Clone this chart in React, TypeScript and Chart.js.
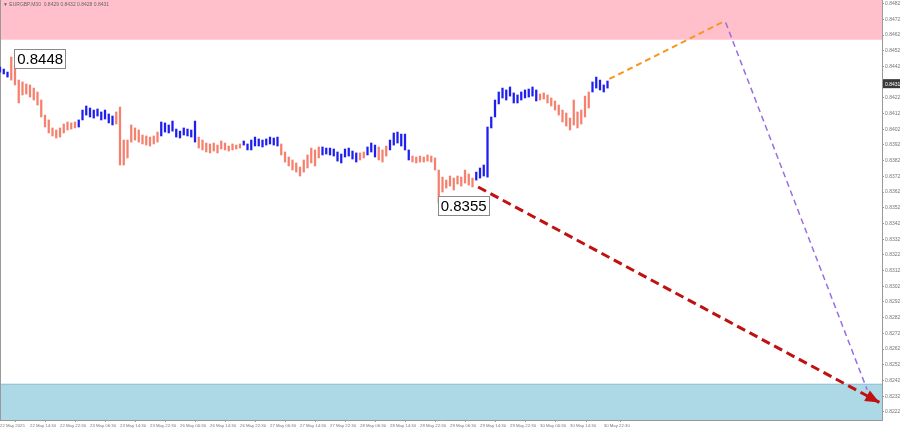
import React, { useEffect, useRef } from 'react';
import { Chart, registerables } from 'chart.js';

Chart.register(...registerables);

// ---------------- DATA ----------------
const symbolTitle = '\u25BC EURGBP,M30  0.8429 0.8432 0.8428 0.8431';

const timeLabels = [
  '22 May 2025', '22 May 14:30', '22 May 22:30', '23 May 06:30', '23 May 14:30', '23 May 22:30',
  '26 May 06:30', '26 May 14:30', '26 May 22:30', '27 May 06:30', '27 May 14:30', '27 May 22:30',
  '28 May 06:30', '28 May 14:30', '28 May 22:30', '29 May 06:30', '29 May 14:30', '29 May 22:30',
  '30 May 06:30', '30 May 14:30', '30 May 22:30',
];
// position of each time label, in 30-minute bar units
const timeTickBars = [0, 16, 32, 48, 64, 80, 96, 112, 128, 144, 160, 176, 192, 208, 224, 240, 256, 272, 288, 304, 322];

const priceTicks = [
  0.8482, 0.8472, 0.8462, 0.8452, 0.8442, 0.8432, 0.8422, 0.8412, 0.8402, 0.8392, 0.8382, 0.8372, 0.8362, 0.8352,
  0.8342, 0.8332, 0.8322, 0.8312, 0.8302, 0.8292, 0.8282, 0.8272, 0.8262, 0.8252, 0.8242, 0.8232, 0.8222,
];

// hourly bars (each spans two 30-minute slots)
const barHigh = [
  0.84416, 0.84403, 0.84384, 0.84480, 0.84429, 0.84333, 0.84321, 0.84308, 0.84302, 0.84282,
  0.84257, 0.84206, 0.84110, 0.84079, 0.84028, 0.84015, 0.84028, 0.84053, 0.84066, 0.84060,
  0.84066, 0.84079, 0.84142, 0.84168, 0.84155, 0.84142, 0.84149, 0.84130, 0.84142, 0.84117,
  0.84104, 0.84130, 0.84161, 0.83951, 0.83951, 0.84047, 0.84028, 0.84015, 0.83983, 0.83977,
  0.83970, 0.83977, 0.84002, 0.84066, 0.84060, 0.84047, 0.84072, 0.84021, 0.84008, 0.84028,
  0.84021, 0.84015, 0.84072, 0.83970, 0.83951, 0.83932, 0.83926, 0.83932, 0.83919, 0.83945,
  0.83932, 0.83913, 0.83926, 0.83919, 0.83926, 0.83945, 0.83926, 0.83951, 0.83970, 0.83958,
  0.83951, 0.83958, 0.83970, 0.83964, 0.83970, 0.83926, 0.83875, 0.83843, 0.83824, 0.83805,
  0.83779, 0.83824, 0.83856, 0.83900, 0.83888, 0.83907, 0.83907, 0.83900, 0.83900, 0.83894,
  0.83875, 0.83862, 0.83894, 0.83900, 0.83881, 0.83869, 0.83869, 0.83875, 0.83907, 0.83932,
  0.83919, 0.83907, 0.83888, 0.83913, 0.83951, 0.83996, 0.84002, 0.83989, 0.83989, 0.83888,
  0.83849, 0.83843, 0.83849, 0.83843, 0.83856, 0.83849, 0.83837, 0.83760, 0.83715, 0.83696,
  0.83722, 0.83709, 0.83722, 0.83715, 0.83760, 0.83735, 0.83709, 0.83747, 0.83773, 0.83792,
  0.84034, 0.84098, 0.84206, 0.84257, 0.84282, 0.84270, 0.84289, 0.84251, 0.84238, 0.84257,
  0.84270, 0.84276, 0.84289, 0.84270, 0.84244, 0.84251, 0.84238, 0.84219, 0.84200, 0.84174,
  0.84142, 0.84123, 0.84091, 0.84206, 0.84130, 0.84142, 0.84231, 0.84257, 0.84321, 0.84352,
  0.84333, 0.84302, 0.84327,
];
const barLow = [
  0.84384, 0.84372, 0.84352, 0.84333, 0.84302, 0.84187, 0.84238, 0.84244, 0.84225, 0.84206,
  0.84174, 0.84098, 0.84034, 0.83996, 0.83977, 0.83964, 0.83970, 0.83996, 0.84015, 0.84021,
  0.84028, 0.84034, 0.84079, 0.84110, 0.84098, 0.84091, 0.84104, 0.84079, 0.84085, 0.84060,
  0.84047, 0.84053, 0.83792, 0.83792, 0.83837, 0.83938, 0.83951, 0.83938, 0.83926, 0.83919,
  0.83913, 0.83926, 0.83938, 0.83977, 0.84002, 0.83996, 0.84008, 0.83970, 0.83964, 0.83983,
  0.83977, 0.83970, 0.83938, 0.83900, 0.83888, 0.83875, 0.83869, 0.83881, 0.83869, 0.83894,
  0.83888, 0.83881, 0.83888, 0.83894, 0.83900, 0.83919, 0.83888, 0.83888, 0.83913, 0.83913,
  0.83907, 0.83919, 0.83926, 0.83919, 0.83913, 0.83856, 0.83811, 0.83786, 0.83760, 0.83747,
  0.83722, 0.83747, 0.83773, 0.83805, 0.83786, 0.83837, 0.83856, 0.83862, 0.83856, 0.83849,
  0.83817, 0.83805, 0.83843, 0.83849, 0.83830, 0.83811, 0.83824, 0.83837, 0.83856, 0.83875,
  0.83843, 0.83824, 0.83811, 0.83849, 0.83888, 0.83919, 0.83932, 0.83913, 0.83888, 0.83824,
  0.83811, 0.83805, 0.83811, 0.83811, 0.83817, 0.83811, 0.83760, 0.83550, 0.83620, 0.83645,
  0.83658, 0.83633, 0.83671, 0.83658, 0.83677, 0.83665, 0.83652, 0.83696, 0.83709, 0.83722,
  0.83715, 0.84028, 0.84098, 0.84181, 0.84219, 0.84206, 0.84231, 0.84187, 0.84187, 0.84206,
  0.84219, 0.84225, 0.84231, 0.84200, 0.84206, 0.84212, 0.84187, 0.84168, 0.84142, 0.84110,
  0.84066, 0.84040, 0.84015, 0.84047, 0.84028, 0.84053, 0.84098, 0.84155, 0.84257, 0.84282,
  0.84270, 0.84257, 0.84282,
];

// wave segments: first bar of each wave and its direction
const waveStart = [0, 3, 21, 31, 43, 53, 65, 75, 86, 96, 98, 101, 104, 110, 127, 144, 158];
const waveUp = [true, false, true, false, true, false, true, false, true, false, true, false, true, false, true, false, true];

const resistanceZone = [0.8459, 0.8500];
const targetZone = [0.8240, 0.8200];

const forecastSmall = [{ x: 325, y: 0.8434 }, { x: 385, y: 0.8470 }];
const forecastLarge = [{ x: 387, y: 0.8470 }, { x: 462.5, y: 0.8236 }];
const forecastMain = [{ x: 255, y: 0.83652 }, { x: 469, y: 0.8228 }];

const extremeBars = [3, 117];
const extremePrices = [0.8448, 0.8355];
const extremeTexts = ['0.8448', '0.8355'];

const lastPrice = 0.8431;

// ---------------- STYLE ----------------
const BLUE = '#1e1ef0';
const SALMON = '#f5806e';
const RED = '#c01010';
const PURPLE = '#9a6ee0';
const ORANGE = '#f7961e';
const X_MAX = 470.4;
const Y_MIN = 0.82168;
const Y_MAX = 0.84843;
const FONT = 'Liberation Sans, Arial, sans-serif';

function waveColor(i: number) {
  let k = 0;
  for (let j = 0; j < waveStart.length; j++) if (waveStart[j] <= i) k = j;
  return waveUp[k] ? BLUE : SALMON;
}

const overlayPlugin = {
  id: 'overlay',
  beforeDatasetsDraw(chart: any) {
    const { ctx, chartArea, scales } = chart;
    const y = scales.y;
    ctx.save();
    ctx.beginPath();
    ctx.rect(chartArea.left, chartArea.top, chartArea.right - chartArea.left, chartArea.bottom - chartArea.top);
    ctx.clip();
    const band = (a: number, b: number, color: string) => {
      const y1 = y.getPixelForValue(a);
      const y2 = y.getPixelForValue(b);
      ctx.fillStyle = color;
      ctx.fillRect(chartArea.left, Math.min(y1, y2), chartArea.right - chartArea.left, Math.abs(y2 - y1));
    };
    band(resistanceZone[0], resistanceZone[1], '#ffc0cb');
    band(targetZone[0], targetZone[1], '#add8e6');
    const ty = Math.round(y.getPixelForValue(targetZone[0])) + 0.5;
    ctx.strokeStyle = '#98c6d6';
    ctx.lineWidth = 1;
    ctx.beginPath();
    ctx.moveTo(chartArea.left, ty);
    ctx.lineTo(chartArea.right, ty);
    ctx.stroke();
    // left border
    ctx.strokeStyle = '#999';
    ctx.beginPath();
    ctx.moveTo(chartArea.left + 0.5, chartArea.top);
    ctx.lineTo(chartArea.left + 0.5, chartArea.bottom);
    ctx.stroke();
    ctx.restore();
  },
  afterDatasetsDraw(chart: any) {
    const { ctx, scales } = chart;
    const x = scales.x;
    const y = scales.y;
    // arrow head on main forecast
    const meta = chart.getDatasetMeta(3);
    const pts = meta.data;
    if (pts.length >= 2) {
      const a = pts[pts.length - 2];
      const b = pts[pts.length - 1];
      const ang = Math.atan2(b.y - a.y, b.x - a.x);
      const L = 14;
      const W = 6;
      ctx.save();
      ctx.fillStyle = RED;
      ctx.beginPath();
      ctx.moveTo(b.x, b.y);
      ctx.lineTo(b.x - L * Math.cos(ang) + W * Math.sin(ang), b.y - L * Math.sin(ang) - W * Math.cos(ang));
      ctx.lineTo(b.x - L * Math.cos(ang) - W * Math.sin(ang), b.y - L * Math.sin(ang) + W * Math.cos(ang));
      ctx.closePath();
      ctx.fill();
      ctx.restore();
    }
    // extreme price labels
    const offs = [{ dx: 3, dy: 1.5 }, { dx: -1, dy: 2.5 }];
    ctx.save();
    ctx.font = `15px ${FONT}`;
    ctx.textBaseline = 'middle';
    ctx.textAlign = 'left';
    extremeBars.forEach((bar, k) => {
      const px = x.getPixelForValue(bar * 2) + offs[k].dx;
      const py = y.getPixelForValue(extremePrices[k]) + offs[k].dy;
      const w = ctx.measureText(extremeTexts[k]).width + 5;
      const h = 19;
      ctx.fillStyle = '#fff';
      ctx.fillRect(Math.round(px) + 0.5, Math.round(py - h / 2) + 0.5, Math.round(w), h);
      ctx.strokeStyle = '#8a8a8a';
      ctx.lineWidth = 1;
      ctx.strokeRect(Math.round(px) + 0.5, Math.round(py - h / 2) + 0.5, Math.round(w), h);
      ctx.fillStyle = '#000';
      ctx.fillText(extremeTexts[k], px + 3, py + 1);
    });
    ctx.restore();
  },
  afterDraw(chart: any) {
    const { ctx, chartArea, scales } = chart;
    const y = scales.y;
    ctx.save();
    // last price tag
    const py = y.getPixelForValue(lastPrice);
    ctx.fillStyle = '#3a3a3a';
    ctx.fillRect(chartArea.right + 1, py - 4.5, 17, 9);
    ctx.fillStyle = '#fff';
    ctx.font = `5px ${FONT}`;
    ctx.textBaseline = 'middle';
    ctx.textAlign = 'left';
    ctx.fillText(lastPrice.toFixed(4), chartArea.right + 3, py + 0.5);
    // title
    ctx.fillStyle = '#666';
    ctx.fillText(symbolTitle, chartArea.left + 3, chartArea.top + 5);
    ctx.restore();
  },
};

export default function App() {
  const ref = useRef<HTMLCanvasElement | null>(null);

  useEffect(() => {
    if (!ref.current) return;
    const bars = barHigh.map((h, i) => ({ x: i * 2, y: [barLow[i], h] }));
    const chart = new Chart(ref.current, {
      type: 'bar',
      data: {
        datasets: [
          {
            type: 'bar',
            data: bars as any,
            backgroundColor: barHigh.map((_, i) => waveColor(i)),
            borderWidth: 0,
            barThickness: 1.6,
            grouped: false,
            order: 3,
          } as any,
          {
            type: 'line',
            data: forecastSmall,
            borderColor: ORANGE,
            borderWidth: 2,
            borderDash: [6, 4],
            pointRadius: 0,
            fill: false,
            order: 1,
          } as any,
          {
            type: 'line',
            data: forecastLarge,
            borderColor: PURPLE,
            borderWidth: 1.5,
            borderDash: [6, 4],
            pointRadius: 0,
            fill: false,
            order: 1,
          } as any,
          {
            type: 'line',
            data: forecastMain,
            borderColor: RED,
            borderWidth: 3,
            borderDash: [9, 5],
            pointRadius: 0,
            fill: false,
            order: 1,
          } as any,
        ],
      },
      options: {
        responsive: false,
        animation: false,
        events: [],
        layout: { padding: 0 },
        plugins: { legend: { display: false }, tooltip: { enabled: false }, title: { display: false } },
        scales: {
          x: {
            type: 'linear',
            min: 0,
            max: X_MAX,
            offset: false,
            grid: { display: true, drawOnChartArea: false, drawTicks: true, tickLength: 2, color: '#999' },
            border: { display: true, color: '#999' },
            ticks: {
              align: 'start',
              autoSkip: false,
              maxRotation: 0,
              minRotation: 0,
              padding: 1,
              color: '#777',
              font: { size: 4.3, family: FONT },
              callback: (_v: any, idx: number) => timeLabels[idx],
            },
            afterBuildTicks: (scale: any) => {
              scale.ticks = timeTickBars.map((v) => ({ value: v }));
            },
            afterFit: (scale: any) => {
              scale.height = 11;
              scale.paddingLeft = 0;
              scale.paddingRight = 0;
            },
          } as any,
          y: {
            type: 'linear',
            position: 'right',
            min: Y_MIN,
            max: Y_MAX,
            grid: { display: true, drawOnChartArea: false, drawTicks: true, tickLength: 2, color: '#999' },
            border: { display: true, color: '#999' },
            ticks: {
              padding: 1,
              color: '#777',
              font: { size: 5, family: FONT },
              callback: (v: any) => Number(v).toFixed(4),
            },
            afterBuildTicks: (scale: any) => {
              scale.ticks = priceTicks.slice().sort((a, b) => a - b).map((v) => ({ value: v }));
            },
            afterFit: (scale: any) => {
              scale.width = 18;
              scale.paddingTop = 0;
              scale.paddingBottom = 0;
            },
          } as any,
        },
      } as any,
      plugins: [overlayPlugin],
    });
    return () => chart.destroy();
  }, []);

  return (
    <div style={{ position: 'fixed', left: 0, top: 0, width: 900, height: 431, background: '#fff' }}>
      <canvas ref={ref} width={900} height={431} style={{ display: 'block' }} />
    </div>
  );
}
